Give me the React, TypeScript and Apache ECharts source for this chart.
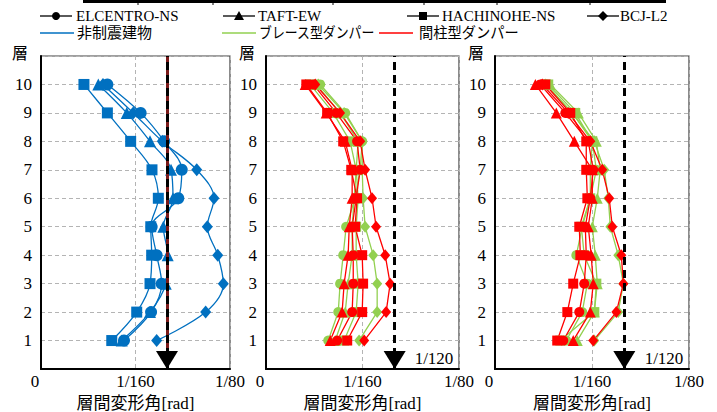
import React, { useEffect, useRef } from "react";
import * as echarts from "echarts";

// floors (層)
const FLOORS = [1, 2, 3, 4, 5, 6, 7, 8, 9, 10];
// x values in units of 1e-3 rad
const X_TICK_LABELS: Record<string, string> = { "0": "{z|0}", "6.25": "1/160", "12.5": "1/80" };
const LIMIT = 1000 / 120; // 1/120 rad in mrad

const WAVES = ["ELCENTRO-NS", "TAFT-EW", "HACHINOHE-NS", "BCJ-L2"];
const SYMBOLS = ["circle", "triangle", "rect", "diamond"];
const TYPES = ["非制震建物", "ブレース型ダンパー", "間柱型ダンパー"];
const COLORS = ["#0070C0", "#92D050", "#FF0000"];

// panel 1: 非制震建物
const p1Elc = [5.49, 7.28, 7.98, 7.65, 7.32, 9.08, 9.31, 8.15, 6.59, 4.39];
const p1Taft = [5.34, 7.21, 8.25, 8.38, 8.09, 8.73, 8.6, 7.21, 5.67, 3.79];
const p1Hach = [4.68, 6.33, 7.21, 7.32, 7.26, 7.76, 7.34, 5.93, 4.39, 2.84];
const p1Bcj = [7.65, 10.89, 12.06, 11.69, 11.0, 11.44, 10.3, 8.02, 6.1, 4.1];

// panel 2
const p2BraceElc = [4.03, 4.68, 4.8, 5.0, 5.19, 5.77, 6.1, 6.23, 5.13, 3.51];
const p2BraceTaft = [4.48, 5.13, 5.32, 5.58, 5.58, 5.71, 5.84, 5.97, 4.8, 3.25];
const p2BraceHach = [5.06, 5.84, 5.97, 5.84, 5.84, 5.97, 5.84, 5.45, 4.35, 2.86];
const p2BraceBcj = [6.03, 7.2, 7.2, 6.94, 6.42, 6.29, 6.23, 6.23, 5.06, 3.38];
const p2ColElc = [4.61, 5.58, 5.65, 5.65, 5.58, 5.84, 6.1, 5.9, 4.55, 3.06];
const p2ColTaft = [4.16, 4.93, 5.06, 5.32, 5.39, 5.58, 5.58, 5.13, 3.9, 2.54];
const p2ColHach = [5.26, 6.23, 6.29, 6.23, 5.77, 5.9, 5.52, 5.0, 3.96, 2.61];
const p2ColBcj = [6.36, 7.78, 8.04, 7.72, 7.13, 6.87, 6.42, 6.1, 4.8, 3.19];

// panel 3
const p3BraceElc = [4.59, 5.62, 5.95, 5.24, 5.62, 6.14, 6.53, 6.27, 4.98, 3.31];
const p3BraceTaft = [5.3, 6.4, 6.59, 6.46, 6.27, 6.59, 6.78, 6.53, 5.37, 3.56];
const p3BraceHach = [4.21, 6.4, 6.53, 5.75, 5.56, 6.14, 6.14, 6.27, 5.17, 3.43];
const p3BraceBcj = [6.4, 7.94, 8.27, 7.94, 7.43, 7.3, 7.04, 6.4, 4.98, 3.24];
const p3ColElc = [4.4, 5.43, 5.75, 5.88, 5.82, 6.14, 6.33, 6.01, 4.53, 2.92];
const p3ColTaft = [5.04, 6.14, 6.33, 6.2, 6.01, 6.27, 6.27, 5.11, 3.95, 2.6];
const p3ColHach = [4.01, 4.66, 5.04, 5.5, 5.43, 5.95, 5.88, 5.88, 4.85, 3.24];
const p3ColBcj = [6.33, 7.82, 8.27, 8.14, 7.56, 7.36, 6.91, 6.14, 4.72, 3.05];

const SERIF = "Liberation Serif, Noto Sans CJK JP";

const GRIDS = [
  { left: 41, top: 56, width: 189, height: 313 },
  { left: 266, top: 56, width: 193, height: 313 },
  { left: 495, top: 56, width: 194, height: 313 },
];

function App() {
  const ref = useRef<HTMLDivElement>(null);
  useEffect(() => {
    document.body.style.margin = "0";
    const chart = echarts.init(ref.current!, null, { renderer: "svg" });

    const mk = (
      name: string,
      vals: number[],
      sym: number,
      color: string,
      axis: number,
      smooth: boolean,
      big: boolean,
      extra: any = {}
    ) => {
      const sizes = big ? [12, 12, 11, [11, 13]] : [10, 11, 10, [10, 12]];
      return {
        name,
        type: "line",
        xAxisIndex: axis,
        yAxisIndex: axis,
        data: FLOORS.map((f, i) => [vals[i], f]),
        symbol: SYMBOLS[sym],
        symbolSize: sizes[sym],
        smooth: smooth ? 0.35 : false,
        lineStyle: { color, width: 1.3 },
        itemStyle: { color },
        ...extra,
      };
    };

    const tri = {
      silent: true,
      symbol: "triangle",
      symbolRotate: 180,
      symbolSize: [22, 18],
      symbolOffset: [0, -9],
      itemStyle: { color: "#000" },
      label: { show: false },
      data: [{ coord: [LIMIT, 0] }],
    };
    const dashPanel1 = {
      markLine: {
        silent: true,
        symbol: "none",
        label: { show: false },
        data: [
          { xAxis: LIMIT, lineStyle: { type: "solid", color: "#7a1a1a", width: 3 } },
          { xAxis: LIMIT, lineStyle: { type: [8, 5], color: "#000", width: 3 } },
        ],
      },
      markPoint: tri,
    };
    const dashPanel = {
      markLine: {
        silent: true,
        symbol: "none",
        label: { show: false },
        data: [{ xAxis: LIMIT, lineStyle: { type: [8, 5], color: "#000", width: 3 } }],
      },
      markPoint: tri,
    };

    const series: any[] = [
      mk(WAVES[0], p1Elc, 0, COLORS[0], 0, true, true, dashPanel1),
      mk(WAVES[1], p1Taft, 1, COLORS[0], 0, true, true),
      mk(WAVES[2], p1Hach, 2, COLORS[0], 0, true, true),
      mk(WAVES[3], p1Bcj, 3, COLORS[0], 0, true, true),

      mk(WAVES[0], p2BraceElc, 0, COLORS[1], 1, false, false, dashPanel),
      mk(WAVES[1], p2BraceTaft, 1, COLORS[1], 1, false, false),
      mk(WAVES[2], p2BraceHach, 2, COLORS[1], 1, false, false),
      mk(WAVES[3], p2BraceBcj, 3, COLORS[1], 1, false, false),
      mk(WAVES[0], p2ColElc, 0, COLORS[2], 1, false, false),
      mk(WAVES[1], p2ColTaft, 1, COLORS[2], 1, false, false),
      mk(WAVES[2], p2ColHach, 2, COLORS[2], 1, false, false),
      mk(WAVES[3], p2ColBcj, 3, COLORS[2], 1, false, false),

      mk(WAVES[0], p3BraceElc, 0, COLORS[1], 2, false, false, dashPanel),
      mk(WAVES[1], p3BraceTaft, 1, COLORS[1], 2, false, false),
      mk(WAVES[2], p3BraceHach, 2, COLORS[1], 2, false, false),
      mk(WAVES[3], p3BraceBcj, 3, COLORS[1], 2, false, false),
      mk(WAVES[0], p3ColElc, 0, COLORS[2], 2, false, false),
      mk(WAVES[1], p3ColTaft, 1, COLORS[2], 2, false, false),
      mk(WAVES[2], p3ColHach, 2, COLORS[2], 2, false, false),
      mk(WAVES[3], p3ColBcj, 3, COLORS[2], 2, false, false),
    ];

    const gridLine = { show: true, lineStyle: { color: "#b4b4b4", type: [4, 3], width: 1 } };

    const xAxis = GRIDS.map((_, i) => ({
      type: "value",
      gridIndex: i,
      min: 0,
      max: 12.5,
      interval: 6.25,
      name: "層間変形角[rad]",
      nameLocation: "middle",
      nameGap: 20,
      nameTextStyle: { fontFamily: SERIF, fontSize: 17, color: "#000" },
      axisLine: { show: true, lineStyle: { color: "#000", width: 2 } },
      axisTick: { show: false },
      axisLabel: {
        fontFamily: SERIF,
        fontSize: 17,
        color: "#000",
        margin: 4,
        showMinLabel: true,
        showMaxLabel: true,
        formatter: (v: number) => X_TICK_LABELS[String(v)] ?? "",
        rich: { z: { fontFamily: SERIF, fontSize: 17, color: "#000", padding: [0, 12, 0, 0] } },
      },
      splitLine: gridLine,
    }));

    const yAxis = GRIDS.map((_, i) => ({
      type: "value",
      gridIndex: i,
      min: 0,
      max: 11,
      interval: 1,
      axisLine: { show: true, lineStyle: { color: "#000", width: 2 } },
      axisTick: { show: false },
      axisLabel: {
        fontFamily: SERIF,
        fontSize: 17,
        color: "#000",
        margin: 9,
        formatter: (v: number) => (v >= 1 && v <= 10 ? String(v) : ""),
      },
      splitLine: gridLine,
    }));

    const legendMarker = (sym: string, cx: number, cy: number) => {
      const st = { fill: "#000" };
      if (sym === "circle") return { type: "circle", shape: { cx, cy, r: 4 }, style: st };
      if (sym === "triangle")
        return { type: "polygon", shape: { points: [[cx, cy - 5], [cx - 5, cy + 4], [cx + 5, cy + 4]] }, style: st };
      if (sym === "rect") return { type: "rect", shape: { x: cx - 4, y: cy - 4, width: 8, height: 8 }, style: st };
      return { type: "polygon", shape: { points: [[cx, cy - 5], [cx + 5, cy], [cx, cy + 5], [cx - 5, cy]] }, style: st };
    };

    const row1 = [
      { x: 40, tx: 76 },
      { x: 223, tx: 258 },
      { x: 407, tx: 442 },
      { x: 587, tx: 620 },
    ];
    const row2 = [
      { x: 40, tx: 77, sx: 1 },
      { x: 222, tx: 259, sx: 0.86 },
      { x: 379, tx: 419, sx: 0.95 },
    ];

    const txt = (text: string, x: number, y: number, size: number, align = "left", sx = 1) => ({
      type: "text",
      x,
      y,
      scaleX: sx,
      style: { text, fontFamily: SERIF, fontSize: size, fill: "#000", verticalAlign: "middle", align },
    });

    const graphic: any[] = [];
    // top border line (cut-off table)
    graphic.push({ type: "line", shape: { x1: 83, y1: 1.5, x2: 666, y2: 1.5 }, style: { stroke: "#000", lineWidth: 3 } });
    [138, 213, 333, 424, 497, 590].forEach((x) =>
      graphic.push({ type: "line", shape: { x1: x, y1: 0, x2: x, y2: 5 }, style: { stroke: "#000", lineWidth: 1 } })
    );
    row1.forEach((r, i) => {
      graphic.push({ type: "line", shape: { x1: r.x, y1: 16, x2: r.x + 32, y2: 16 }, style: { stroke: "#000", lineWidth: 1.3 } });
      graphic.push(legendMarker(SYMBOLS[i], r.x + 16, 16));
      graphic.push(txt(WAVES[i], r.tx, 16, 15));
    });
    row2.forEach((r, i) => {
      graphic.push({ type: "line", shape: { x1: r.x, y1: 33, x2: r.x + 34, y2: 33 }, style: { stroke: COLORS[i], lineWidth: 1.5 } });
      graphic.push(txt(TYPES[i], r.tx, 33, 15, "left", r.sx));
    });
    [20, 247, 476].forEach((x) => graphic.push(txt("層", x, 53, 16, "center")));
    [434, 664].forEach((x) => graphic.push(txt("1/120", x, 358, 17, "center")));

    chart.setOption({
      animation: false,
      backgroundColor: "#fff",
      textStyle: { fontFamily: SERIF },
      grid: GRIDS.map((g) => ({
        ...g,
        show: true,
        borderColor: "#404040",
        borderWidth: 1.2,
        backgroundColor: "transparent",
        containLabel: false,
        outerBoundsMode: "none",
      })),
      xAxis,
      yAxis,
      series,
      graphic,
    });
    return () => chart.dispose();
  }, []);
  return <div ref={ref} style={{ width: 717, height: 412 }} />;
}

export default App;
